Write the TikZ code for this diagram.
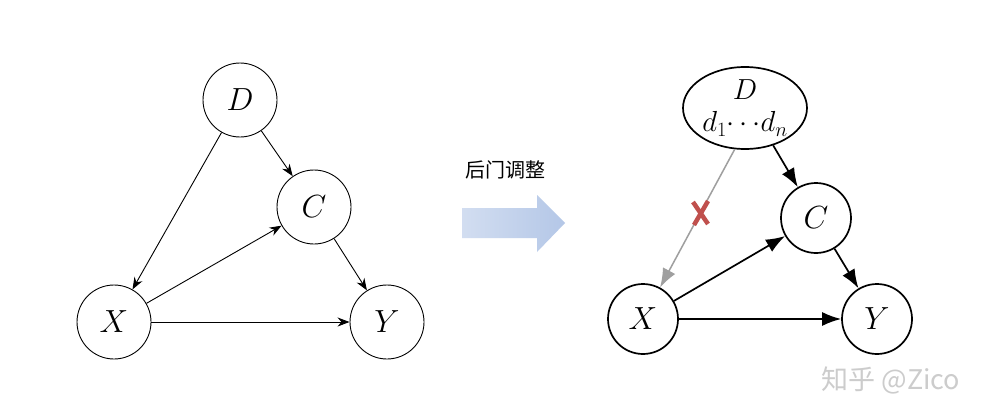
\RequirePackage{fix-cm}
\documentclass[tikz,border=0pt]{standalone}
\usepackage{amsmath,amssymb}
\usepackage{fontspec}
\newfontfamily\cjk{Noto Sans CJK SC}
\usetikzlibrary{arrows.meta,positioning,calc,shapes.geometric}

\definecolor{cutred}{RGB}{192,80,77}
\definecolor{arrowblue}{RGB}{180,199,231}

\begin{document}
\begin{tikzpicture}[x=1pt,y=-1pt,
    var/.style={draw,circle,line width=0.9pt,minimum size=74pt,inner sep=0pt,font=\fontsize{32}{34}\selectfont},
    varb/.style={var,line width=1.7pt,minimum size=70pt},
    thin edge/.style={-{Stealth[length=12pt,width=9pt]},line width=0.9pt},
    bold edge/.style={-{Latex[length=19pt,width=14pt]},line width=1.7pt}]
    \fill[white] (0,0) rectangle (1006,420);
    \useasboundingbox (0,0) rectangle (1006,420);

    % Before: graph with the confounder
    \node[var] (dl) at (240,100) {$D$};
    \node[var] (cl) at (314,207) {$C$};
    \node[var] (xl) at (114,322) {$X$};
    \node[var] (yl) at (387,322) {$Y$};

    \draw[thin edge] (dl) -- (xl);
    \draw[thin edge] (dl) -- (cl);
    \draw[thin edge] (xl) -- (cl);
    \draw[thin edge] (cl) -- (yl);
    \draw[thin edge] (xl) -- (yl);

    % Adjustment arrow
    \node[font=\cjk\fontsize{20}{22}\selectfont] (adj) at (505,170) {后门调整};
    \shade[left color=arrowblue!60,right color=arrowblue]
        (462,208) -- (537,208) -- (537,195) -- (565,223)
        -- (537,252) -- (537,238) -- (462,238) -- cycle;

    % After: adjusting on D
    \node[draw,ellipse,line width=1.7pt,minimum width=124pt,minimum height=82pt,
        inner sep=0pt,align=center,font=\fontsize{29}{31}\selectfont] (dr) at (745,108)
        {$D$\\[1pt]$d_1{\cdots}d_n$};
    \node[varb] (cr) at (816,218) {$C$};
    \node[varb] (xr) at (643,319) {$X$};
    \node[varb] (yr) at (877,319) {$Y$};

    \draw[-{Latex[length=19pt,width=14pt]},line width=1.5pt,gray!75] (dr.256) -- (xr);
    \draw[bold edge] (dr.307) -- (cr);
    \draw[bold edge] (xr) -- (cr);
    \draw[bold edge] (cr) -- (yr);
    \draw[bold edge] (xr) -- (yr);

    % Cut mark
    \coordinate (cut) at (700,213);
    \draw[cutred,line width=4.5pt] ($(cut)+(-7,-11)$) -- ($(cut)+(8,11)$);
    \draw[cutred,line width=4.5pt] ($(cut)+(8,-12)$) -- ($(cut)+(-6,12)$);

    % Watermark
    \node[text=gray!40,font=\cjk\fontsize{27}{30}\selectfont,anchor=west] (mark) at (818,380) {知乎 @Zico};
\end{tikzpicture}
\end{document}
